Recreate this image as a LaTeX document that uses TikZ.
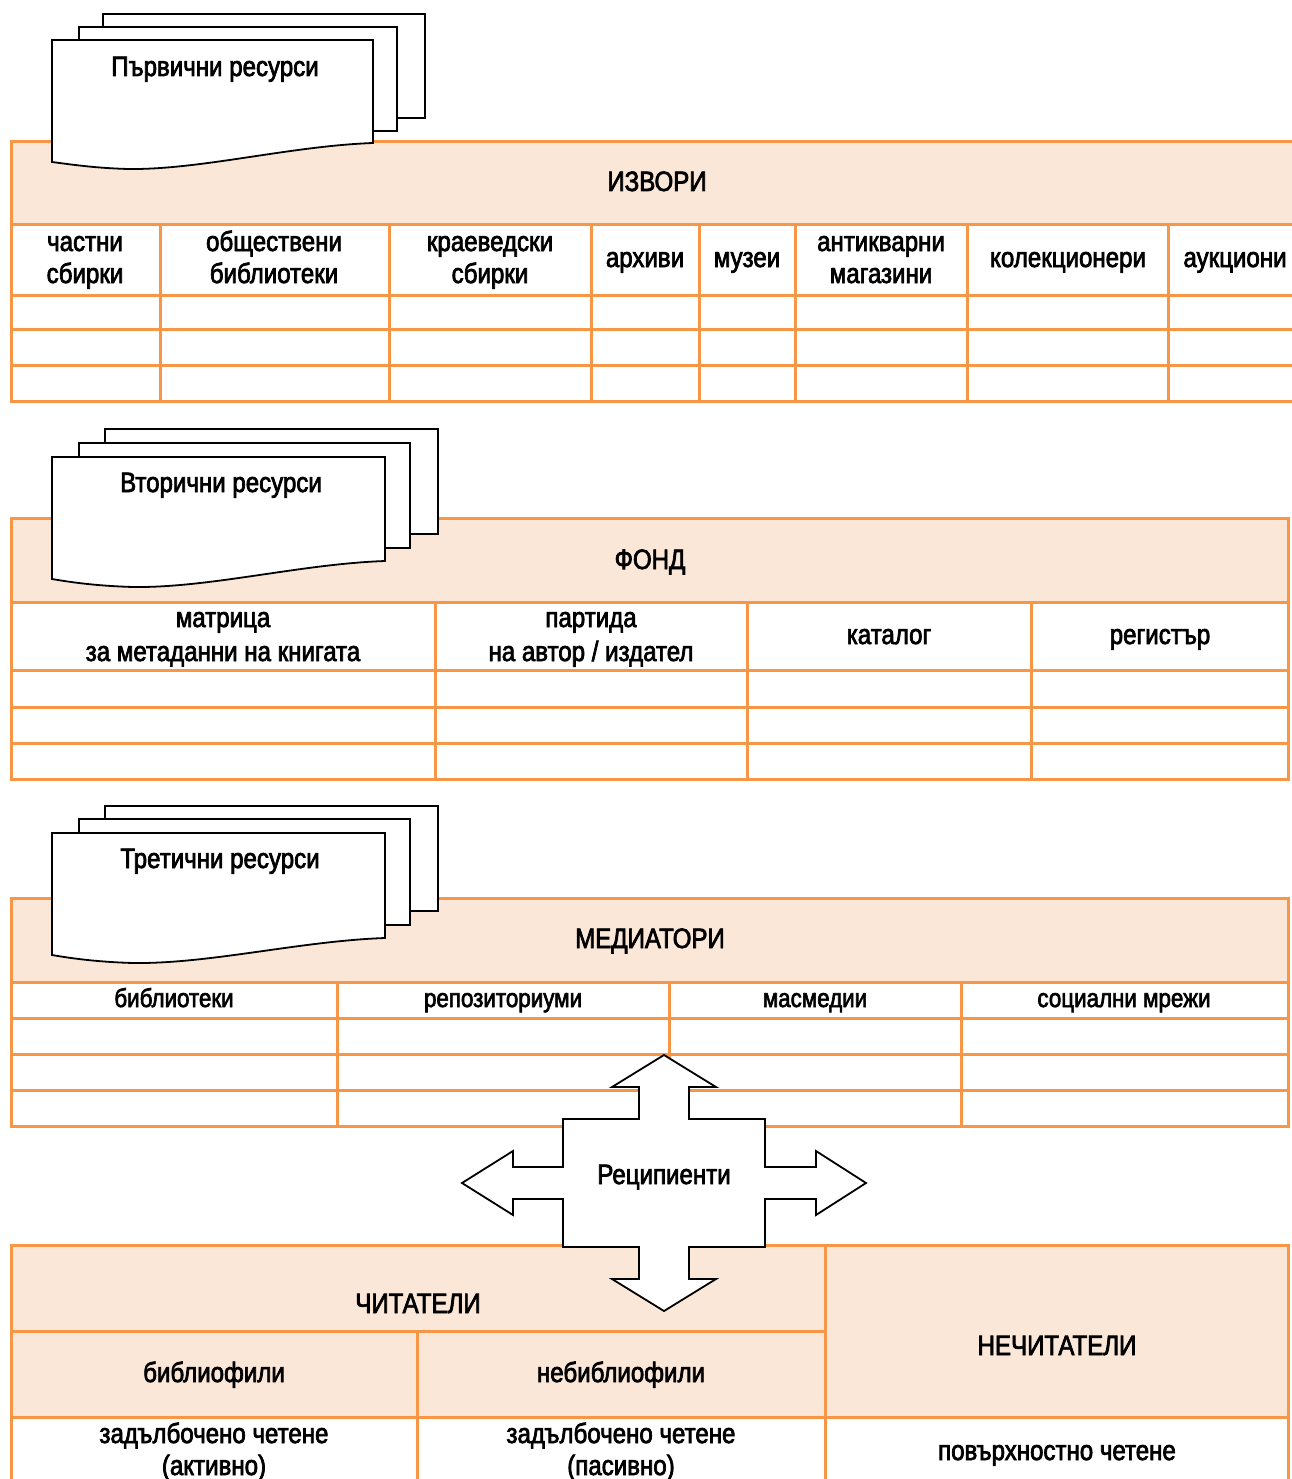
\documentclass[tikz,border=0pt]{standalone}
\usepackage{fontspec}
\setmainfont{Liberation Sans}[FakeStretch=0.86,FakeBold=2.5]
\begin{document}
\begin{tikzpicture}[x=1pt,y=-1pt,
  orl/.style={draw=orangeline,line width=3pt},
  band/.style={fill=bandfill},
  sheet/.style={draw=black,line width=1.8pt,fill=white,line join=miter},
  lbl/.style={font=\fontsize{28}{32}\selectfont,align=center,inner sep=0pt,anchor=base,text=black},
  lbls/.style={lbl,font=\fontsize{26}{32}\selectfont}]
\definecolor{orangeline}{HTML}{F79646}
\definecolor{bandfill}{HTML}{FBE7D8}
\useasboundingbox (0,0) rectangle (1291,1479);
\fill[white] (0,0) rectangle (1291,1479);

% ---------- section 1 table ----------
\fill[band] (11,142) rectangle (1295,225);
\foreach \y in {142,225,295,329,365,401} \draw[orl] (9.5,\y) -- (1295,\y);
\draw[orl] (11,142) -- (11,402.5);
\foreach \x in {160,389,591,699,795,967,1168} \draw[orl] (\x,225) -- (\x,401);

% ---------- section 2 table ----------
\fill[band] (11,518) rectangle (1288,602);
\foreach \y in {518,602,670,707,743,779} \draw[orl] (9.5,\y) -- (1289.5,\y);
\foreach \x in {11,1288} \draw[orl] (\x,518) -- (\x,780.5);
\foreach \x in {435,747,1031} \draw[orl] (\x,602) -- (\x,779);

% ---------- section 3 table ----------
\fill[band] (11,898) rectangle (1288,982);
\foreach \y in {898,982,1018,1054,1090,1126} \draw[orl] (9.5,\y) -- (1289.5,\y);
\foreach \x in {11,1288} \draw[orl] (\x,898) -- (\x,1127.5);
\foreach \x in {337,669,961} \draw[orl] (\x,982) -- (\x,1126);

% ---------- bottom table ----------
\fill[band] (11,1245) rectangle (1288,1417);
\draw[orl] (9.5,1245) -- (1289.5,1245);
\draw[orl] (11,1331) -- (825,1331);
\draw[orl] (9.5,1417) -- (1289.5,1417);
\foreach \x in {11,825,1288} \draw[orl] (\x,1245) -- (\x,1485);
\draw[orl] (417,1331) -- (417,1485);

% ---------- document stacks ----------
% section 1
\draw[sheet] (103,14) rectangle (425,118);
\draw[sheet] (79,27) rectangle (397,131);
\draw[sheet] (52,40) -- (373,40) -- (373,143)
  .. controls (290,146) and (200,170) .. (128,169)
  .. controls (95,168) and (75,165) .. (52,162) -- cycle;
% section 2
\draw[sheet] (105,429) rectangle (438,534);
\draw[sheet] (79,443) rectangle (410,548);
\draw[sheet] (52,457) -- (385,457) -- (385,561)
  .. controls (300,564) and (210,588) .. (133,587)
  .. controls (100,586) and (75,583) .. (52,579) -- cycle;
% section 3
\draw[sheet] (105,806) rectangle (438,911);
\draw[sheet] (79,819) rectangle (410,925);
\draw[sheet] (52,833) -- (385,833) -- (385,938)
  .. controls (300,941) and (210,964) .. (133,963)
  .. controls (100,962) and (75,959) .. (52,955) -- cycle;

% ---------- cross arrow ----------
\draw[sheet] (664,1055) -- (716,1087) -- (689,1087) -- (689,1119) -- (765,1119)
  -- (765,1167) -- (816,1167) -- (816,1151) -- (866,1183) -- (816,1215) -- (816,1199)
  -- (765,1199) -- (765,1247) -- (689,1247) -- (689,1279) -- (716,1279) -- (664,1311)
  -- (612,1279) -- (639,1279) -- (639,1247) -- (563,1247) -- (563,1199) -- (513,1199)
  -- (513,1215) -- (462,1183) -- (513,1151) -- (513,1167) -- (563,1167) -- (563,1119)
  -- (639,1119) -- (639,1087) -- (612,1087) -- cycle;

% ---------- labels ----------
\node[lbl] (prim) at (215,76) {Първични ресурси};
\node[lbl] (izv) at (657,191) {ИЗВОРИ};
\node[lbl] (c1) at (85,283) {частни\\сбирки};
\node[lbl] (c2) at (274,283) {обществени\\библиотеки};
\node[lbl] (c3) at (490,283) {краеведски\\сбирки};
\node[lbl] (c4) at (645,267) {архиви};
\node[lbl] (c5) at (747,267) {музеи};
\node[lbl] (c6) at (881,283) {антикварни\\магазини};
\node[lbl] (c7) at (1068,267) {колекционери};
\node[lbl] (c8) at (1235,267) {аукциони};

\node[lbl] (sec) at (221,492) {Вторични ресурси};
\node[lbl] (fond) at (650,569) {ФОНД};
\node[lbl,font=\fontsize{28}{34}\selectfont] (f1) at (223,661) {матрица\\за метаданни на книгата};
\node[lbl,font=\fontsize{28}{34}\selectfont] (f2) at (591,661) {партида\\на автор / издател};
\node[lbl] (f3) at (889,644) {каталог};
\node[lbl] (f4) at (1160,644) {регистър};

\node[lbl] (ter) at (220,868) {Третични ресурси};
\node[lbl] (med) at (650,948) {МЕДИАТОРИ};
\node[lbls] (m1) at (174,1007) {библиотеки};
\node[lbls] (m2) at (503,1007) {репозиториуми};
\node[lbls] (m3) at (815,1007) {масмедии};
\node[lbls] (m4) at (1124,1007) {социални мрежи};

\node[lbl] (rec) at (664,1184) {Реципиенти};

\node[lbl] (chit) at (418,1313) {ЧИТАТЕЛИ};
\node[lbl] (nechit) at (1057,1355) {НЕЧИТАТЕЛИ};
\node[lbl] (b1) at (214,1382) {библиофили};
\node[lbl] (b2) at (621,1382) {небиблиофили};
\node[lbl] (r1) at (214,1475) {задълбочено четене\\(активно)};
\node[lbl] (r2) at (621,1475) {задълбочено четене\\(пасивно)};
\node[lbl] (r3) at (1057,1460) {повърхностно четене};
\end{tikzpicture}
\end{document}
